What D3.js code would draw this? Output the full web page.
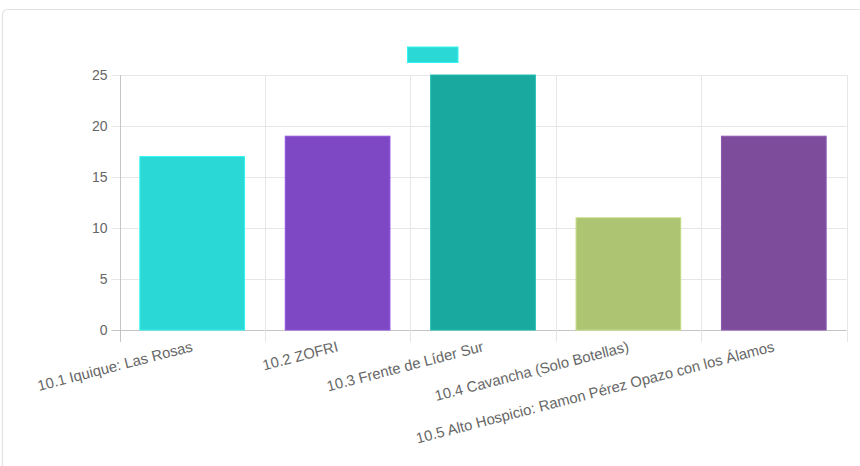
<!DOCTYPE html>
<html>
<head>
<meta charset="utf-8">
<script src="https://cdn.jsdelivr.net/npm/d3@7"></script>
<style>
  html, body { margin: 0; padding: 0; background: #fff; }
  svg { display: block; }
  text { font-family: "Liberation Sans", Arial, Helvetica, sans-serif; }
</style>
</head>
<body>
<svg id="chart" width="860" height="466"></svg>
<script>
const categories = [
  "10.1 Iquique: Las Rosas",
  "10.2 ZOFRI",
  "10.3 Frente de Líder Sur",
  "10.4 Cavancha (Solo Botellas)",
  "10.5 Alto Hospicio: Ramon Pérez Opazo con los Álamos"
];
const values = [17, 19, 25, 11, 19];
const barColors = ["#2ad8d5", "#7e48c4", "#19a99f", "#adc472", "#7d4c9b"];
const yTicks = [0, 5, 10, 15, 20, 25];
const legendLabel = "";

const svg = d3.select("#chart");
const plot = { left: 119.5, right: 846.5, top: 75, bottom: 330 };

// card
svg.append("rect")
  .attr("x", 2.5).attr("y", 9.5).attr("width", 900).attr("height", 500)
  .attr("rx", 5).attr("fill", "#fff").attr("stroke", "#e3e3e3").attr("stroke-width", 1.2);

const x = d3.scaleBand().domain(categories).range([plot.left, plot.right]).padding(0);
const y = d3.scaleLinear().domain([0, 25]).range([plot.bottom, plot.top]);

const grid = svg.append("g");
// horizontal gridlines
grid.selectAll("line.h").data(yTicks).join("line")
  .attr("x1", plot.left - 8).attr("x2", plot.right)
  .attr("y1", d => Math.round(y(d)) + 0.5).attr("y2", d => Math.round(y(d)) + 0.5)
  .attr("stroke", d => d === 0 ? "#c4c4c4" : "#e6e6e6").attr("stroke-width", 1);
// vertical gridlines
const vlines = categories.map(c => x(c)).concat([plot.right]);
grid.selectAll("line.v").data(vlines).join("line")
  .attr("x1", d => Math.round(d) + 0.5).attr("x2", d => Math.round(d) + 0.5)
  .attr("y1", plot.top).attr("y2", plot.bottom + 12)
  .attr("stroke", (d, i) => i === 0 ? "#c4c4c4" : "#e6e6e6").attr("stroke-width", 1);

// y axis labels
const yAxis = d3.axisLeft(y).tickValues(yTicks).tickSize(0).tickPadding(0);
const yg = svg.append("g").attr("transform", `translate(${plot.left - 12},0)`).call(yAxis);
yg.select(".domain").remove();
yg.selectAll("text").attr("fill", "#666").style("font-size", "14px")
  .style("font-family", "'Liberation Sans', Arial, sans-serif");

// bars
const frac = 0.72;
svg.append("g").selectAll("rect").data(values).join("rect")
  .attr("x", (d, i) => x(categories[i]) + x.bandwidth() * (1 - frac) / 2)
  .attr("width", x.bandwidth() * frac)
  .attr("y", d => y(d))
  .attr("height", d => y(0) - y(d))
  .attr("fill", (d, i) => barColors[i])
  .attr("stroke", (d, i) => d3.color(barColors[i]).brighter(0.35))
  .attr("stroke-width", 1);

// x labels
const xAxis = d3.axisBottom(x).tickSize(0).tickPadding(0);
const xg = svg.append("g").attr("transform", `translate(0,${plot.bottom})`).call(xAxis);
xg.select(".domain").remove();
xg.selectAll(".tick text")
  .attr("fill", "#666").style("font-size", "14.8px")
  .style("font-family", "'Liberation Sans', Arial, sans-serif")
  .attr("text-anchor", "end")
  .attr("dy", "0.35em")
  .attr("y", 0)
  .attr("transform", "translate(0,16) rotate(-14.5)");

// legend
const lg = svg.append("g");
lg.append("rect").attr("x", 407.5).attr("y", 47).attr("width", 50.5).attr("height", 15.5)
  .attr("fill", barColors[0]).attr("stroke", d3.color(barColors[0]).brighter(0.35));
lg.append("text").attr("x", 466).attr("y", 55).attr("dy", "0.35em").text(legendLabel);
</script>
</body>
</html>
